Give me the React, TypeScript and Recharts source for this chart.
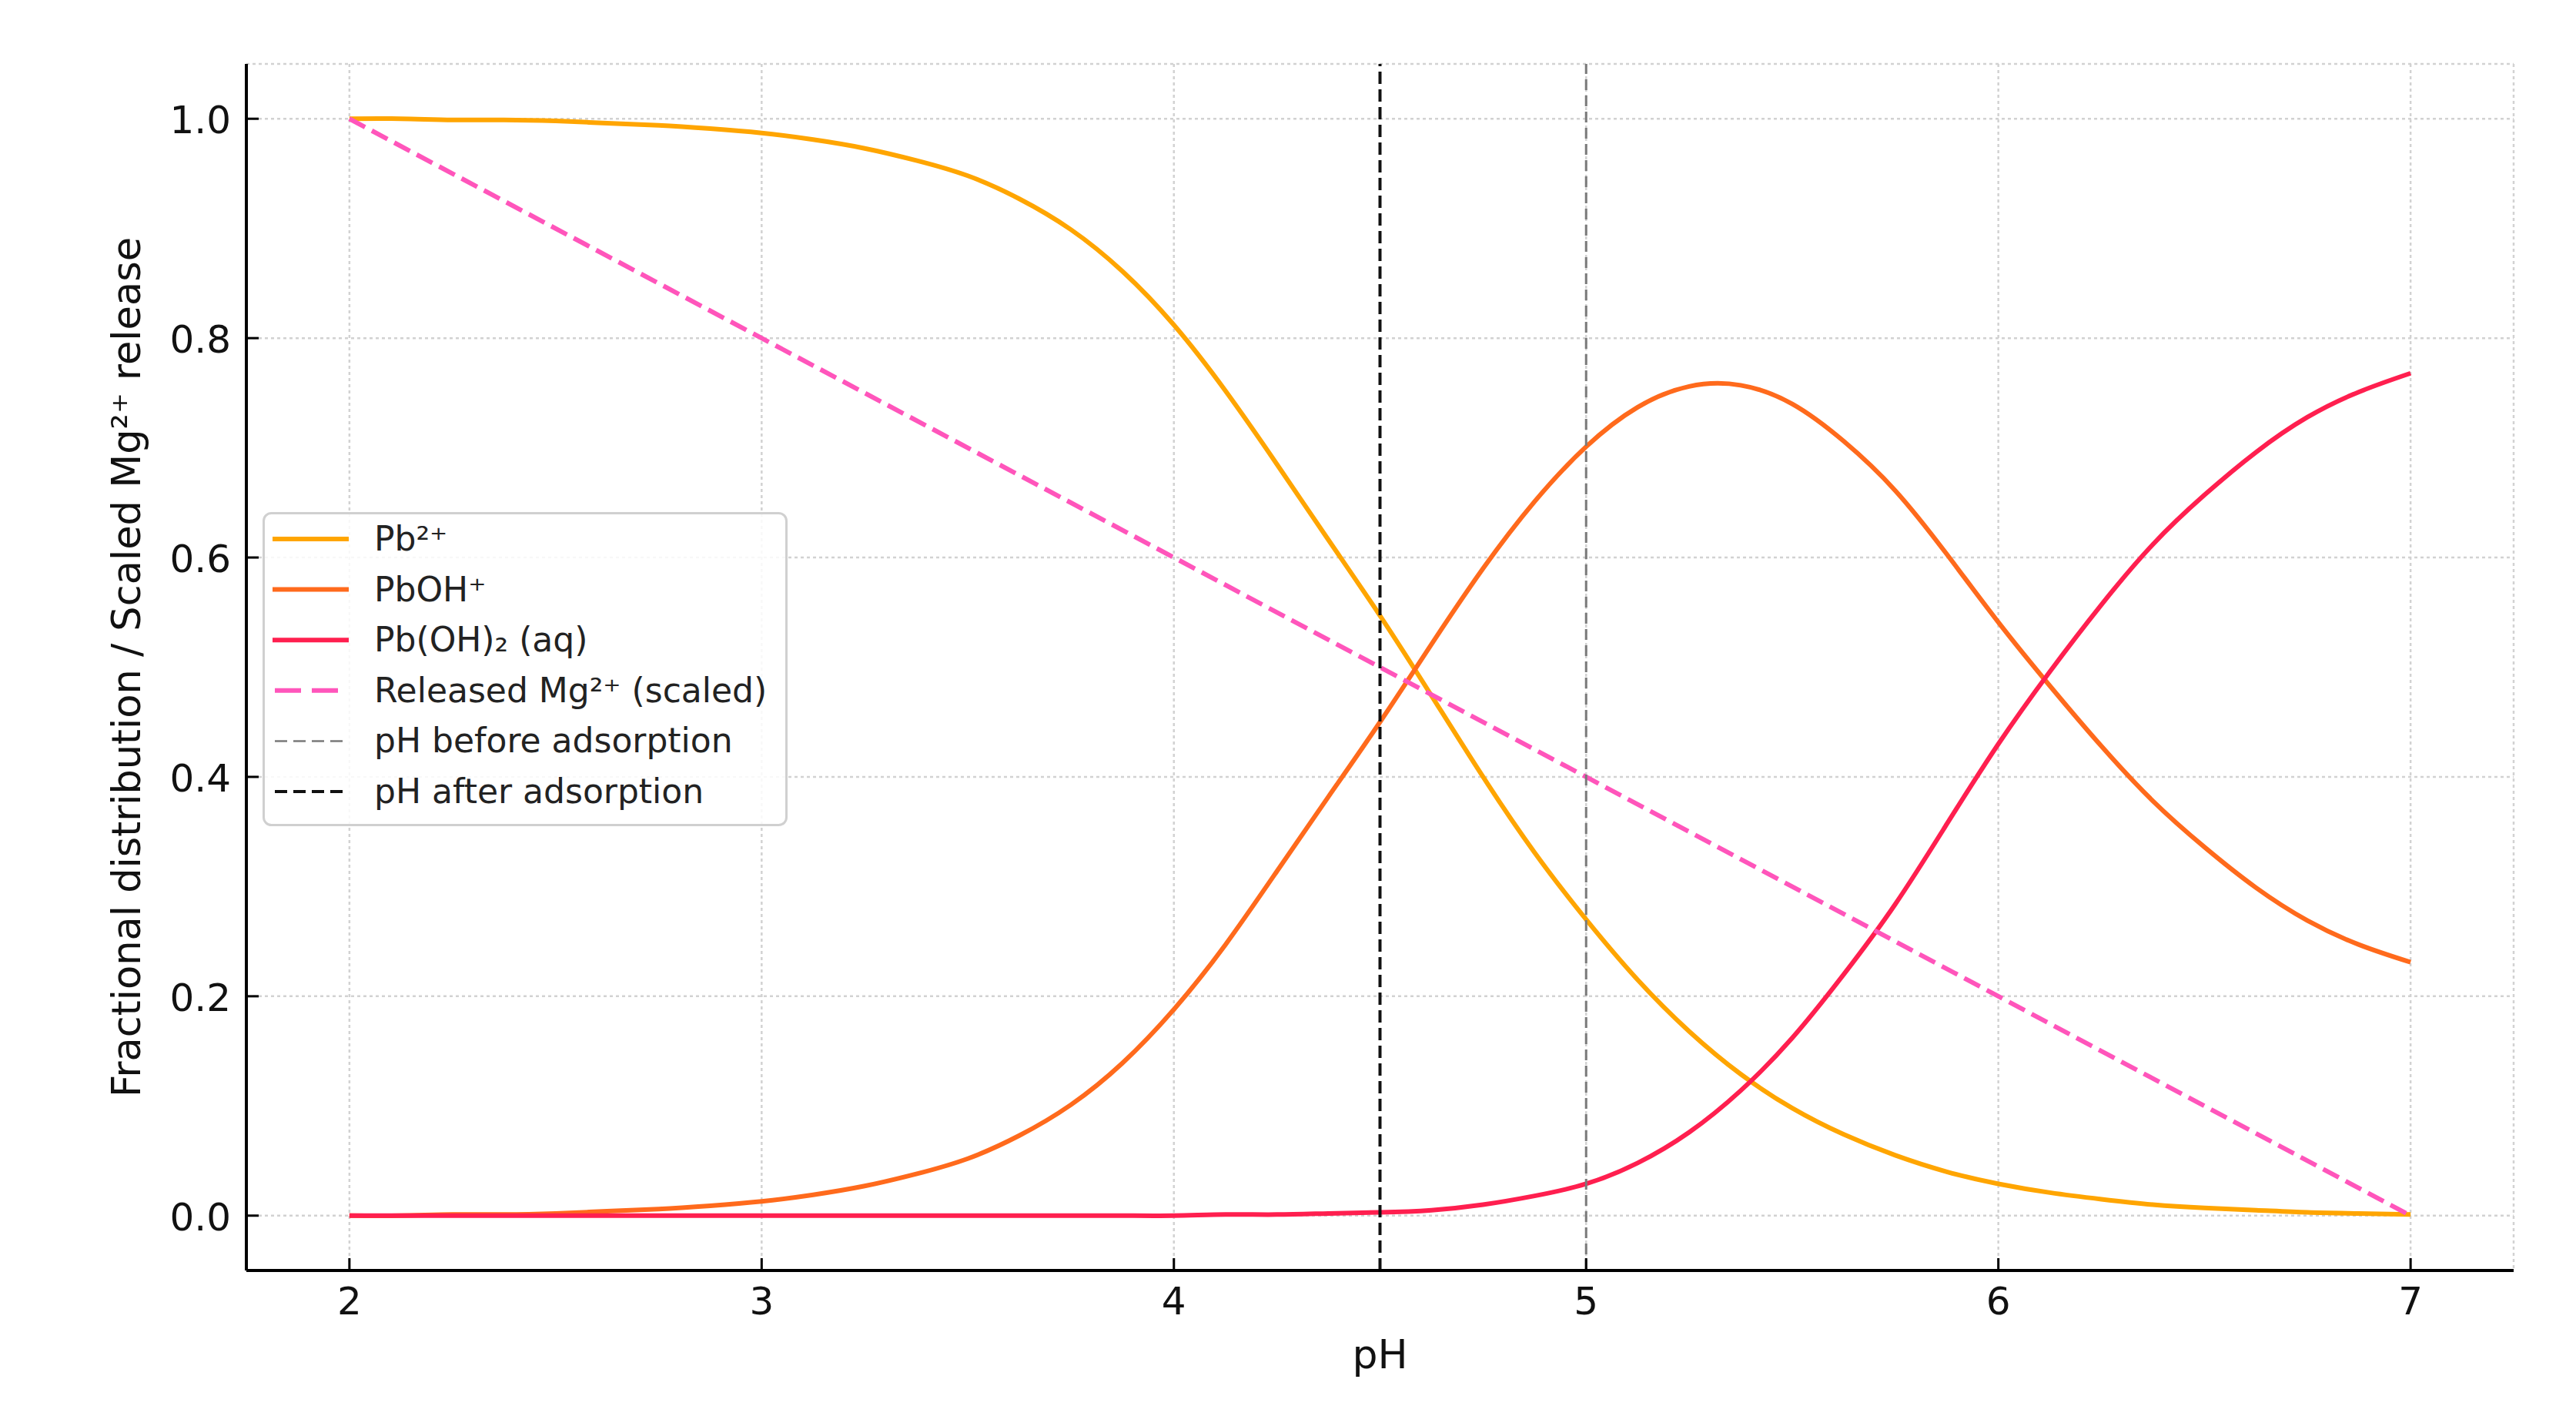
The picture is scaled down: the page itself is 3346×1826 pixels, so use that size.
import React from 'react';
import { LineChart, Line, XAxis, YAxis, CartesianGrid, ReferenceLine, Legend } from 'recharts';

// ---- data ----
const pHValues = [2, 2.125, 2.25, 2.375, 2.5, 2.625, 2.75, 2.875, 3, 3.125, 3.25, 3.375, 3.5, 3.625, 3.75, 3.875, 4, 4.125, 4.25, 4.375, 4.5, 4.625, 4.75, 4.875, 5, 5.125, 5.25, 5.375, 5.5, 5.625, 5.75, 5.875, 6, 6.125, 6.25, 6.375, 6.5, 6.625, 6.75, 6.875, 7];
const pb2Values = [1.0, 1.0, 0.999, 0.999, 0.998, 0.996, 0.994, 0.991, 0.987, 0.981, 0.973, 0.962, 0.948, 0.927, 0.899, 0.861, 0.812, 0.752, 0.685, 0.616, 0.547, 0.474, 0.4, 0.331, 0.27, 0.215, 0.168, 0.129, 0.098, 0.074, 0.055, 0.04, 0.029, 0.021, 0.015, 0.01, 0.007, 0.005, 0.003, 0.002, 0.001];
const pbOHValues = [0.0, 0.0, 0.001, 0.001, 0.002, 0.004, 0.006, 0.009, 0.013, 0.019, 0.027, 0.038, 0.052, 0.073, 0.101, 0.139, 0.188, 0.247, 0.314, 0.382, 0.45, 0.521, 0.59, 0.651, 0.701, 0.737, 0.756, 0.757, 0.74, 0.706, 0.661, 0.603, 0.541, 0.483, 0.428, 0.378, 0.336, 0.299, 0.269, 0.247, 0.231];
const pbOH2Values = [0, 0, 0, 0, 0, 0, 0, 0, 0, 0, 0, 0, 0, 0, 0, 0, 0, 0.001, 0.001, 0.002, 0.003, 0.005, 0.01, 0.018, 0.029, 0.048, 0.076, 0.114, 0.162, 0.22, 0.284, 0.357, 0.43, 0.496, 0.557, 0.612, 0.657, 0.696, 0.728, 0.751, 0.768];

const mgPH = [2, 3, 4, 5, 6, 7];
const mgValues = [1.0, 0.8, 0.6, 0.4, 0.2, 0.0];

const pHBefore = 5;
const pHAfter = 4.5;

const xTicks = [2, 3, 4, 5, 6, 7];
const yTicks = [0, 0.2, 0.4, 0.6, 0.8, 1.0];

const seriesNames = {
  pb2: 'Pb²⁺',
  pbOH: 'PbOH⁺',
  pbOH2: 'Pb(OH)₂ (aq)',
  mg: 'Released Mg²⁺ (scaled)',
  before: 'pH before adsorption',
  after: 'pH after adsorption',
};

const COLORS = {
  pb2: '#FFA500',
  pbOH: '#FF6A1C',
  pbOH2: '#FF1F4F',
  mg: '#FF55BB',
  before: '#7a7a7a',
  after: '#111111',
};

const speciesData = pHValues.map((pH, i) => ({
  pH,
  pb2: pb2Values[i],
  pbOH: pbOHValues[i],
  pbOH2: pbOH2Values[i],
}));
const mgData = mgPH.map((pH, i) => ({ pH, mg: mgValues[i] }));

const FONT = '"DejaVu Sans", "Liberation Sans", sans-serif';

const XTick = (props: any) => {
  const { x, y, payload } = props;
  return (
    <g>
      <line x1={x} x2={x} y1={y} y2={y - 16} stroke="#000" strokeWidth={3} />
      <text x={x} y={y + 57} textAnchor="middle" fontSize={50} fontFamily={FONT} fill="#111">
        {String(payload.value)}
      </text>
    </g>
  );
};

const YTick = (props: any) => {
  const { x, y, payload } = props;
  return (
    <g>
      <line x1={x} x2={x + 16} y1={y} y2={y} stroke="#000" strokeWidth={3} />
      <text x={x - 20} y={y + 19} textAnchor="end" fontSize={50} fontFamily={FONT} fill="#111">
        {Number(payload.value).toFixed(1)}
      </text>
    </g>
  );
};

const legendItems = [
  { key: 'pb2', dash: undefined as string | undefined, width: 6, x1: 13, x2: 112 },
  { key: 'pbOH', dash: undefined, width: 6, x1: 13, x2: 112 },
  { key: 'pbOH2', dash: undefined, width: 6, x1: 13, x2: 112 },
  { key: 'mg', dash: '34 14', width: 6, x1: 16, x2: 100 },
  { key: 'before', dash: '16 8', width: 2.5, x1: 16, x2: 106 },
  { key: 'after', dash: '16 8', width: 4, x1: 16, x2: 106 },
];

const LegendBox = () => (
  <svg width={682} height={408} style={{ display: 'block' }}>
    <rect x={1.5} y={1.5} width={679} height={405} rx={10} ry={10} fill="#ffffff" fillOpacity={0.85} stroke="#d0d0d0" strokeWidth={3} />
    {legendItems.map((it, i) => {
      const cy = 35 + i * 65.6;
      return (
        <g key={it.key}>
          <line x1={it.x1} x2={it.x2} y1={cy} y2={cy} stroke={(COLORS as any)[it.key]} strokeWidth={it.width} strokeDasharray={it.dash} />
          <text x={145} y={cy + 15} fontSize={44} fontFamily={FONT} fill="#222">
            {(seriesNames as any)[it.key]}
          </text>
        </g>
      );
    })}
  </svg>
);

export default function App() {
  return (
    <div style={{ position: 'absolute', left: 0, top: 0, width: 3346, height: 1826, background: '#fff' }}>
      <LineChart
        width={3346}
        height={1826}
        data={speciesData}
        margin={{ top: 83, right: 81, bottom: 0, left: 0 }}
      >
        <CartesianGrid stroke="#d2d2d2" strokeWidth={2.5} strokeDasharray="4 4" />
        <XAxis
          dataKey="pH"
          type="number"
          domain={[1.75, 7.25]}
          ticks={xTicks}
          allowDataOverflow
          height={176}
          tickSize={0}
          tickMargin={0}
          tickLine={false}
          axisLine={{ stroke: '#000', strokeWidth: 4 }}
          tick={<XTick />}
          interval={0}
          label={{
            content: (p: any) => {
              const vb = p.viewBox;
              return (
                <text x={vb.x + vb.width / 2} y={vb.y + 127} textAnchor="middle" fontSize={52} fontFamily={FONT} fill="#111">
                  pH
                </text>
              );
            },
          }}
        />
        <YAxis
          type="number"
          domain={[-0.05, 1.05]}
          ticks={yTicks}
          allowDataOverflow
          width={320}
          tickSize={0}
          tickMargin={0}
          tickLine={false}
          axisLine={{ stroke: '#000', strokeWidth: 4 }}
          tick={<YTick />}
          interval={0}
          label={{
            content: (p: any) => {
              const vb = p.viewBox;
              const cx = 182;
              const cy = vb.y + vb.height / 2;
              return (
                <text x={cx} y={cy} transform={`rotate(-90 ${cx} ${cy})`} textAnchor="middle" fontSize={51} fontFamily={FONT} fill="#111">
                  Fractional distribution / Scaled Mg²⁺ release
                </text>
              );
            },
          }}
        />
        <Line type="natural" dataKey="pb2" name={seriesNames.pb2} stroke={COLORS.pb2} strokeWidth={6} dot={false} activeDot={false} isAnimationActive={false} />
        <Line type="natural" dataKey="pbOH" name={seriesNames.pbOH} stroke={COLORS.pbOH} strokeWidth={6} dot={false} activeDot={false} isAnimationActive={false} />
        <Line type="natural" dataKey="pbOH2" name={seriesNames.pbOH2} stroke={COLORS.pbOH2} strokeWidth={6} dot={false} activeDot={false} isAnimationActive={false} />
        <Line data={mgData} type="linear" dataKey="mg" name={seriesNames.mg} stroke={COLORS.mg} strokeWidth={6} strokeDasharray="23 10" dot={false} activeDot={false} isAnimationActive={false} />
        <ReferenceLine x={pHBefore} stroke={COLORS.before} strokeWidth={3} strokeDasharray="14 7" />
        <ReferenceLine x={pHAfter} stroke={COLORS.after} strokeWidth={4} strokeDasharray="16 7" />
        <Legend
          layout="vertical"
          align="center"
          verticalAlign="middle"
          wrapperStyle={{ left: 341, top: 665, width: 682, height: 408, bottom: 'auto', right: 'auto' }}
          content={() => <LegendBox />}
        />
      </LineChart>
    </div>
  );
}
